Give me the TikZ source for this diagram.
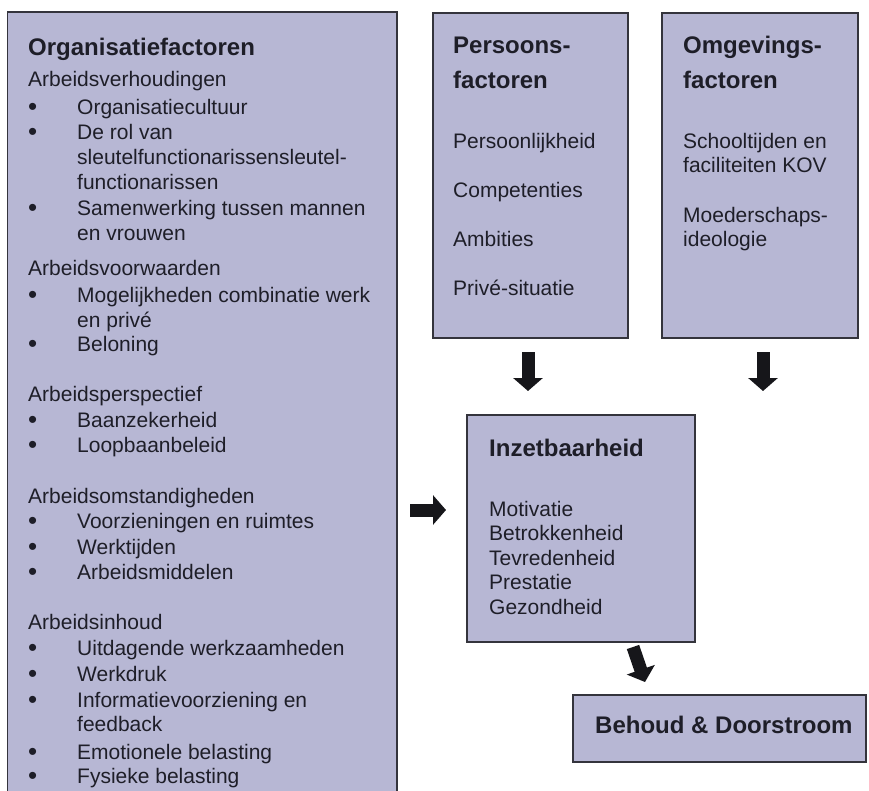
\documentclass[tikz,border=0pt]{standalone}
\usepackage{fontspec}
\setmainfont{Liberation Sans}
\usetikzlibrary{arrows.meta}
\definecolor{boxfill}{RGB}{183,183,212}
\definecolor{boxline}{RGB}{52,52,60}
\definecolor{ink}{RGB}{30,30,40}
\definecolor{arrowc}{RGB}{22,22,26}
\newcommand\mysub[3]{\node[txt] (#1) at (28,#2) {#3};}
\newcommand\mybul[3]{\node[bul] (#1b) at (28,#2) {•}; \node[txt] (#1) at (77,#2) {#3};}
\newcommand\mycont[3]{\node[txt] (#1) at (77,#2) {#3};}
\begin{document}
\begin{tikzpicture}[x=1pt,y=-1pt,
  box/.style={draw=boxline, line width=1.4pt, fill=boxfill, inner sep=0pt, rectangle},
  txt/.style={anchor=base west, inner sep=0pt, text=ink, font=\fontsize{21}{25}\selectfont},
  bul/.style={anchor=base west, inner sep=0pt, text=ink, font=\fontsize{26}{25}\selectfont, yshift=-1pt},
  ttl/.style={anchor=base west, inner sep=0pt, text=ink, font=\fontsize{24}{28}\selectfont\bfseries},
  barrow/.style={draw=arrowc, line width=13pt, -{Triangle[width=29pt,length=13pt]}}]
\useasboundingbox (0,0) rectangle (869,790);
\clip (0,0) rectangle (869,790);
\fill[white] (0,0) rectangle (869,790);

% boxes
\node[box, minimum width=389.5pt, minimum height=788pt] (org) at (202.25,406) {};
\node[box, minimum width=195pt, minimum height=325pt] (pers) at (530.5,175.5) {};
\node[box, minimum width=196pt, minimum height=325pt] (omg) at (760,175.5) {};
\node[box, minimum width=228pt, minimum height=227pt] (inz) at (581,528.5) {};
\node[box, minimum width=293pt, minimum height=67pt] (beh) at (719.5,728.5) {};

% Organisatiefactoren
\node[ttl] (orgt) at (28,55) {Organisatiefactoren};
\mysub{o1}{86}{Arbeidsverhoudingen}
\mybul{o2}{114}{Organisatiecultuur}
\mybul{o3}{139.5}{De rol van}
\mycont{o4}{164.5}{sleutelfunctionarissensleutel-}
\mycont{o5}{189.5}{functionarissen}
\mybul{o6}{215}{Samenwerking tussen mannen}
\mycont{o7}{240}{en vrouwen}
\mysub{o8}{275}{Arbeidsvoorwaarden}
\mybul{o9}{302}{Mogelijkheden combinatie werk}
\mycont{o10}{327}{en privé}
\mybul{o11}{351.5}{Beloning}
\mysub{o12}{401.5}{Arbeidsperspectief}
\mybul{o13}{427}{Baanzekerheid}
\mybul{o14}{452}{Loopbaanbeleid}
\mysub{o15}{503}{Arbeidsomstandigheden}
\mybul{o16}{528}{Voorzieningen en ruimtes}
\mybul{o17}{554}{Werktijden}
\mybul{o18}{579}{Arbeidsmiddelen}
\mysub{o19}{629}{Arbeidsinhoud}
\mybul{o20}{655}{Uitdagende werkzaamheden}
\mybul{o21}{681}{Werkdruk}
\mybul{o22}{707}{Informatievoorziening en}
\mycont{o23}{731.5}{feedback}
\mybul{o24}{759}{Emotionele belasting}
\mybul{o25}{783.5}{Fysieke belasting}

% Persoonsfactoren
\node[ttl] (pt1) at (453,53.5) {Persoons-};
\node[ttl] (pt2) at (453,88) {factoren};
\node[txt] (p1) at (453,148) {Persoonlijkheid};
\node[txt] (p2) at (453,197) {Competenties};
\node[txt] (p3) at (453,246.5) {Ambities};
\node[txt] (p4) at (453,295) {Privé-situatie};

% Omgevingsfactoren
\node[ttl] (gt1) at (683,53.5) {Omgevings-};
\node[ttl] (gt2) at (683,88) {factoren};
\node[txt] (g1) at (683,148) {Schooltijden en};
\node[txt] (g2) at (683,172.5) {faciliteiten KOV};
\node[txt] (g3) at (683,222.5) {Moederschaps-};
\node[txt] (g4) at (683,246.5) {ideologie};

% Inzetbaarheid
\node[ttl] (it) at (489,456) {Inzetbaarheid};
\node[txt] (i1) at (489,516) {Motivatie};
\node[txt] (i2) at (489,540.5) {Betrokkenheid};
\node[txt] (i3) at (489,565) {Tevredenheid};
\node[txt] (i4) at (489,589.5) {Prestatie};
\node[txt] (i5) at (489,614) {Gezondheid};

% Behoud
\node[ttl] (bt) at (595,733) {Behoud \& Doorstroom};

% arrows
\coordinate (pa1) at (528,352);
\coordinate (pa2) at (528,391);
\coordinate (ga1) at (763,352);
\coordinate (ga2) at (763,391);
\coordinate (oa1) at (410,510);
\coordinate (oa2) at (446,510);
\coordinate (ia1) at (633,647);
\coordinate (ia2) at (645,682);
\draw[barrow] (pa1) -- (pa2);
\draw[barrow] (ga1) -- (ga2);
\draw[barrow] (oa1) -- (oa2);
\draw[barrow] (ia1) -- (ia2);
\end{tikzpicture}
\end{document}
